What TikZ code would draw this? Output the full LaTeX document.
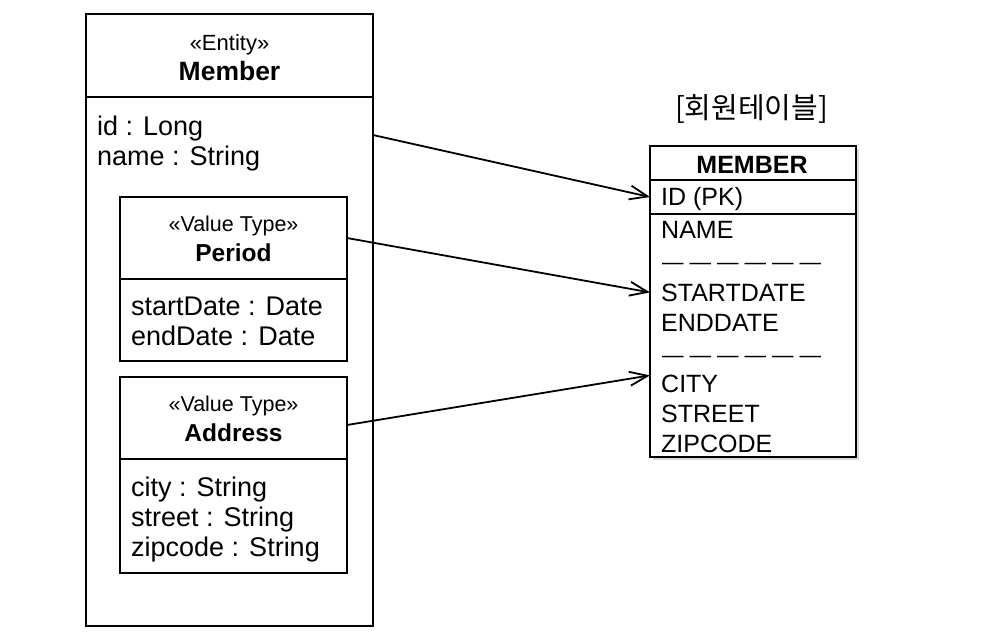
\documentclass[tikz,border=0pt]{standalone}
\usepackage{fontspec}
\setmainfont{Liberation Sans}
\newfontfamily\kofont{Noto Sans CJK KR}
\usepackage{tikz}
\usetikzlibrary{positioning,arrows.meta,shadows}

\begin{document}
\begin{tikzpicture}[x=1pt, y=-1pt,
    box/.style={rectangle, draw, line width=1.8pt, inner sep=0pt, outer sep=0pt},
    stereo/.style={anchor=base, inner sep=0pt, font=\fontsize{21.5}{24}\selectfont},
    title/.style={anchor=base, inner sep=0pt, font=\fontsize{25}{30}\selectfont\bfseries},
    field/.style={anchor=base west, inner sep=0pt, font=\fontsize{27}{30}\selectfont},
    column/.style={anchor=base west, inner sep=0pt, font=\fontsize{25}{30}\selectfont},
    map/.style={-{Straight Barb[length=18pt,width=14pt]}, line width=1.8pt}]
    \useasboundingbox (0,0) rectangle (1004,638);

    % Entity
    \node (memberhead) [box, minimum width=287pt, minimum height=83pt, anchor=north west] at (86,14) {};
    \node (memberbody) [box, minimum width=287pt, minimum height=529pt, below=0pt of memberhead] {};
    \node (entitystereo) [stereo, font=\fontsize{22}{24}\selectfont] at (229.5,50) {«Entity»};
    \node (entityname) [title, font=\fontsize{26.5}{30}\selectfont\bfseries] at (229.5,80) {Member};
    \node (idfield) [field] at (97,135) {id : Long};
    \node (namefield) [field] at (97,165) {name : String};

    % Value types
    \node (periodhead) [box, minimum width=227pt, minimum height=82pt, anchor=north west] at (120,197) {};
    \node (periodbody) [box, minimum width=227pt, minimum height=82pt, below=0pt of periodhead] {};
    \node (periodstereo) [stereo] at (233.5,231) {«Value Type»};
    \node (periodname) [title, font=\fontsize{24.5}{30}\selectfont\bfseries] at (233.5,261) {Period};
    \node (startfield) [field] at (131,315) {startDate : Date};
    \node (endfield) [field] at (131,345) {endDate : Date};

    \node (addresshead) [box, minimum width=227pt, minimum height=82pt, anchor=north west] at (120,377) {};
    \node (addressbody) [box, minimum width=227pt, minimum height=114pt, below=0pt of addresshead] {};
    \node (addressstereo) [stereo] at (233.5,411) {«Value Type»};
    \node (addressname) [title, font=\fontsize{24.5}{30}\selectfont\bfseries] at (233.5,441) {Address};
    \node (cityfield) [field] at (131,496) {city : String};
    \node (streetfield) [field] at (131,526) {street : String};
    \node (zipfield) [field] at (131,556) {zipcode : String};

    % Table
    \node (tabletitle) [anchor=base, inner sep=0pt, font=\kofont\fontsize{29}{32}\selectfont] at (751.5,118) {[회원테이블]};
    \node (tableshade) [rectangle, fill=white, minimum width=206pt, minimum height=311pt, anchor=north west,
        drop shadow={shadow xshift=2.5pt, shadow yshift=-2.5pt, opacity=0.3}] at (650,146) {};
    \node (tablehead) [box, minimum width=206pt, minimum height=34pt, anchor=north west] at (650,146) {};
    \node (idrow) [box, minimum width=206pt, minimum height=34pt, below=0pt of tablehead] {};
    \node (tablebody) [box, minimum width=206pt, minimum height=243pt, below=0pt of idrow] {};
    \node (tablename) [title] at (752,173) {MEMBER};
    \node (idcol) [column] at (661,205) {ID (PK)};
    \node (namecol) [column] at (661,238) {NAME};
    \node (sepone) [column, font=\fontsize{21.5}{30}\selectfont] at (662,269) {— — — — — —};
    \node (startcol) [column] at (661,301) {STARTDATE};
    \node (endcol) [column] at (661,331) {ENDDATE};
    \node (septwo) [column, font=\fontsize{21.5}{30}\selectfont] at (662,362) {— — — — — —};
    \node (citycol) [column] at (661,392) {CITY};
    \node (streetcol) [column] at (661,422) {STREET};
    \node (zipcol) [column] at (661,452) {ZIPCODE};

    % Edges
    \coordinate (memberport) at (373,135);
    \draw[map] (memberport) -- (idrow.west);
    \draw[map] (periodhead.east) -- (startcol.west -| tablebody.west);
    \draw[map] ([yshift=-7pt]addresshead.east) -- ([yshift=8pt]citycol.west -| tablebody.west);
\end{tikzpicture}
\end{document}
